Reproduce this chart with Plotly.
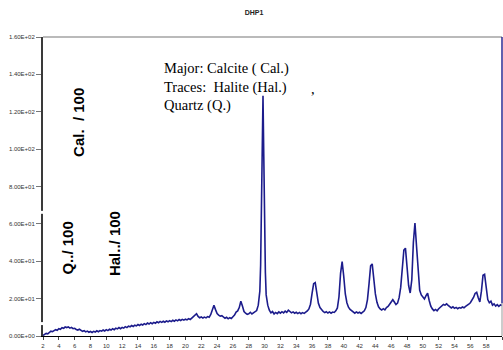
import plotly.graph_objects as go

two_theta = [
    2.0, 2.2, 2.4, 2.6, 2.8, 3.0, 3.2, 3.4, 3.6, 3.8,
    4.0, 4.2, 4.4, 4.6, 4.8, 5.0, 5.2, 5.4, 5.6, 5.8,
    6.0, 6.2, 6.4, 6.6, 6.8, 7.0, 7.2, 7.4, 7.6, 7.8,
    8.0, 8.2, 8.4, 8.6, 8.8, 9.0, 9.2, 9.4, 9.6, 9.8,
    10.0, 10.2, 10.4, 10.6, 10.8, 11.0, 11.2, 11.4, 11.6, 11.8,
    12.0, 12.2, 12.4, 12.6, 12.8, 13.0, 13.2, 13.4, 13.6, 13.8,
    14.0, 14.2, 14.4, 14.6, 14.8, 15.0, 15.2, 15.4, 15.6, 15.8,
    16.0, 16.2, 16.4, 16.6, 16.8, 17.0, 17.2, 17.4, 17.6, 17.8,
    18.0, 18.2, 18.4, 18.6, 18.8, 19.0, 19.2, 19.4, 19.6, 19.8,
    20.0, 20.2, 20.4, 20.6, 20.8, 21.0, 21.2, 21.4, 21.6, 21.8,
    22.0, 22.2, 22.4, 22.6, 22.8, 23.0, 23.2, 23.4, 23.6, 23.8,
    24.0, 24.2, 24.4, 24.6, 24.8, 25.0, 25.2, 25.4, 25.6, 25.8,
    26.0, 26.2, 26.4, 26.6, 26.8, 27.0, 27.2, 27.4, 27.6, 27.8,
    28.0, 28.2, 28.4, 28.6, 28.8, 29.0, 29.2, 29.4,
    29.5, 29.6, 29.7, 29.8, 29.9, 30.0, 30.1, 30.2,
    30.4, 30.6, 30.8, 31.0, 31.2, 31.4, 31.6, 31.8,
    32.0, 32.2, 32.4, 32.6, 32.8, 33.0, 33.2, 33.4, 33.6, 33.8,
    34.0, 34.2, 34.4, 34.6, 34.8, 35.0, 35.2, 35.4, 35.6, 35.8,
    36.0, 36.2, 36.4, 36.6, 36.8, 37.0, 37.2, 37.4, 37.6, 37.8,
    38.0, 38.2, 38.4, 38.6, 38.8, 39.0, 39.2, 39.4, 39.6, 39.8,
    40.0, 40.2, 40.4, 40.6, 40.8, 41.0, 41.2, 41.4, 41.6, 41.8,
    42.0, 42.2, 42.4, 42.6, 42.8, 43.0, 43.2, 43.4, 43.6, 43.8,
    44.0, 44.2, 44.4, 44.6, 44.8, 45.0, 45.2, 45.4, 45.6, 45.8,
    46.0, 46.2, 46.4, 46.6, 46.8, 47.0, 47.2, 47.4, 47.6, 47.8,
    48.0, 48.2, 48.4, 48.6, 48.8, 49.0, 49.2, 49.4, 49.6, 49.8,
    50.0, 50.2, 50.4, 50.6, 50.8, 51.0, 51.2, 51.4, 51.6, 51.8,
    52.0, 52.2, 52.4, 52.6, 52.8, 53.0, 53.2, 53.4, 53.6, 53.8,
    54.0, 54.2, 54.4, 54.6, 54.8, 55.0, 55.2, 55.4, 55.6, 55.8,
    56.0, 56.2, 56.4, 56.6, 56.8, 57.0, 57.2, 57.4, 57.6, 57.8,
    58.0, 58.2, 58.4, 58.6, 58.8, 59.0, 59.2, 59.4, 59.6, 59.8, 60.0,
]

intensity = [
    0.3, 0.9, 1.4, 1.2, 2.1, 2.6, 2.3, 3.0, 3.4, 3.1,
    3.9, 3.6, 4.4, 4.1, 4.8, 4.5, 4.9, 4.2, 4.6, 3.9,
    4.1, 3.5, 3.2, 3.6, 2.8, 2.5, 2.9, 2.2, 2.6, 2.0,
    2.4, 1.9, 2.5, 2.1, 2.8, 2.3, 2.9, 2.6, 3.2, 2.7,
    3.4, 2.9, 3.6, 3.2, 3.9, 3.4, 4.2, 3.8, 4.5, 3.9,
    4.6, 4.2, 5.0, 4.5, 5.3, 4.9, 5.6, 5.1, 5.8, 5.4,
    6.1, 5.6, 6.3, 5.9, 6.6, 6.1, 6.9, 6.4, 7.1, 6.6,
    7.3, 6.8, 7.6, 7.1, 7.8, 7.3, 7.9, 7.4, 8.1, 7.6,
    8.2, 7.7, 8.4, 7.9, 8.6, 8.1, 8.8, 8.3, 8.9, 8.5,
    9.0, 8.6, 9.3, 8.8, 9.6, 10.4, 11.6, 11.9, 10.5, 9.8,
    10.2, 9.6, 10.1, 9.7, 10.4, 10.0, 11.5, 14.2, 16.4, 14.1,
    12.0, 11.2, 10.6, 10.9, 10.1, 9.5, 10.0, 9.2, 9.8, 9.4,
    10.3, 11.2, 12.8, 13.4, 15.2, 18.6, 16.0, 13.1, 12.2, 11.6,
    11.9, 12.7, 11.8, 12.5, 12.9, 13.6, 16.5, 24.0,
    38.0, 62.0, 98.0, 128.5, 96.0, 58.0, 34.0, 22.0,
    16.5, 13.8, 12.4, 13.1, 11.8, 12.6, 12.0, 12.9,
    12.2, 13.0, 12.4, 13.3, 12.6, 13.8, 13.1, 12.4, 12.9, 12.2,
    12.7, 12.0, 12.6, 11.9, 12.5, 12.1, 12.8, 13.4, 14.5, 17.0,
    22.8, 28.0, 28.6, 22.0, 17.5, 15.2, 13.8, 13.1, 12.5, 13.0,
    12.3, 12.9, 12.2, 12.8, 12.6, 13.5, 15.0, 21.0, 33.5, 39.8,
    32.0, 22.5, 17.8, 15.4, 14.2, 13.5, 12.8, 12.2, 12.9, 12.3,
    12.7, 12.1, 12.8, 13.5, 15.2, 19.5, 28.0, 37.5, 38.6, 30.0,
    22.5, 18.0, 15.6, 14.5, 13.9, 14.6, 14.0, 15.2, 15.8, 17.0,
    18.6, 19.4, 18.2, 16.8, 17.6, 20.5, 26.0, 35.0, 46.0, 47.0,
    38.0, 27.0, 23.0, 30.0, 50.0, 60.5, 48.0, 33.0, 24.5, 22.0,
    20.5, 19.8, 21.6, 22.9, 19.0, 16.0, 14.5, 13.6, 14.2, 13.5,
    14.6, 15.4, 16.2, 16.9, 16.5, 17.2, 16.4, 15.8, 15.0, 15.6,
    14.8, 15.3, 14.6, 15.2, 14.9, 15.5, 15.1, 15.8, 16.2, 17.0,
    17.8, 18.9, 20.6, 22.8, 23.4, 20.5, 18.2, 24.0, 32.5, 33.0,
    26.0, 19.5, 17.8, 18.6, 16.5, 17.2, 16.0, 16.8, 15.9, 16.6, 16.4,
]

x_tick_vals = [2, 4, 6, 8, 10, 12, 14, 16, 18, 20, 22, 24, 26, 28, 30,
               32, 34, 36, 38, 40, 42, 44, 46, 48, 50, 52, 54, 56, 58, 60]
y_tick_vals = [0, 20, 40, 60, 80, 100, 120, 140, 160]
y_tick_text = ["0.00E+00", "2.00E+01", "4.00E+01", "6.00E+01", "8.00E+01",
               "1.00E+02", "1.20E+02", "1.40E+02", "1.60E+02"]

W, H = 503, 350
L, R, T, B = 43, 1, 37, 12
PW, PH = W - L - R, H - T - B


def fx(px):
    return (px - L) / PW


def fy(py):
    return (H - B - py) / PH


fig = go.Figure(go.Scatter(
    x=two_theta, y=intensity, mode="lines",
    line=dict(color="#1c1c8c", width=1.6),
    hoverinfo="skip",
))

serif = dict(family="Liberation Serif, Times New Roman, serif", size=14.5, color="black")
bold = dict(family="Liberation Sans, Arial, sans-serif", size=15, color="black")

annotations = [
    dict(text="Major: Calcite ( Cal.)", x=fx(162), y=fy(69), xanchor="left", yanchor="middle", font=serif),
    dict(text="Traces:\u00a0 Halite (Hal.)", x=fx(162), y=fy(88), xanchor="left", yanchor="middle", font=serif),
    dict(text="Quartz (Q.)", x=fx(162), y=fy(106), xanchor="left", yanchor="middle", font=serif),
    dict(text=",", x=fx(313), y=fy(89), xanchor="center", yanchor="middle", font=serif),
    dict(text="<b>Cal.\u00a0 / 100</b>", x=fx(79), y=fy(123.5), textangle=-90, xanchor="center", yanchor="middle", font=bold),
    dict(text="<b>Q../ 100</b>", x=fx(68), y=fy(250), textangle=-90, xanchor="center", yanchor="middle", font=bold),
    dict(text="<b>Hal../ 100</b>", x=fx(114), y=fy(245.5), textangle=-90, xanchor="center", yanchor="middle", font=bold),
]
for a in annotations:
    a.update(xref="paper", yref="paper", showarrow=False)

shapes = [
    dict(type="line", xref="paper", yref="paper", x0=0, x1=1, y0=1, y1=1,
         line=dict(color="#777777", width=1.2)),
    dict(type="line", xref="paper", yref="paper", x0=1, x1=1, y0=0, y1=fy(305),
         line=dict(color="#aaaaaa", width=1.2)),
    dict(type="line", xref="paper", yref="paper", x0=1, x1=1, y0=fy(305), y1=1,
         line=dict(color="#1c1c8c", width=1.4)),
    dict(type="rect", xref="paper", yref="paper", x0=fx(40.5), x1=fx(45), y0=fy(215), y1=fy(212),
         fillcolor="white", line=dict(width=0), layer="above"),
    dict(type="rect", xref="paper", yref="paper", x0=fx(40.5), x1=fx(45), y0=fy(327), y1=fy(324),
         fillcolor="white", line=dict(width=0), layer="above"),
]

tickfont = dict(family="Liberation Sans, Arial, sans-serif", size=6, color="#333333")

fig.update_layout(
    width=W, height=H,
    margin=dict(l=L, r=R, t=T, b=B, pad=0),
    paper_bgcolor="white", plot_bgcolor="white",
    showlegend=False,
    title=dict(text="<b>DHP1</b>", xref="container", x=0.505, y=1 - 13 / H,
               xanchor="center", yanchor="middle",
               font=dict(family="Liberation Sans, Arial, sans-serif", size=7, color="#222222")),
    xaxis=dict(range=[2, 60], tickvals=x_tick_vals, ticks="outside", ticklen=3,
               tickcolor="#444444", tickwidth=1, showline=True, linecolor="black", linewidth=1,
               showgrid=False, zeroline=False, tickfont=tickfont, ticklabelstandoff=1),
    yaxis=dict(range=[0, 160], tickvals=y_tick_vals, ticktext=y_tick_text, ticks="outside",
               ticklen=5, tickcolor="#777777", tickwidth=1, showline=True, linecolor="#3a3a3a",
               linewidth=2, showgrid=False, zeroline=False, tickfont=tickfont),
    annotations=annotations,
    shapes=shapes,
)

fig.write_html(
    "out.html",
    config={"displayModeBar": False},
    post_script="document.body.style.margin='0';document.body.style.padding='0';",
)
